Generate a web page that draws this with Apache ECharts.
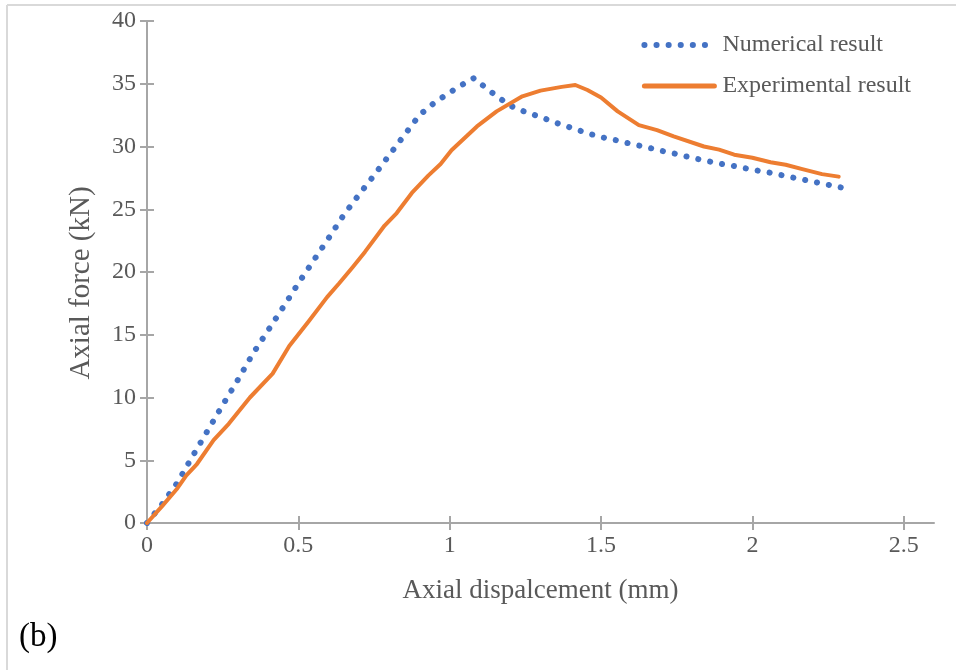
<!DOCTYPE html>
<html><head><meta charset="utf-8">
<script src="https://cdn.jsdelivr.net/npm/echarts@6/dist/echarts.min.js"></script>
<style>html,body{margin:0;padding:0;background:#fff}#c{width:956px;height:670px}</style>
</head><body><div id="c"></div>
<script>
const numX = [0,0.05,0.1,0.15,0.2,0.25,0.3,0.35,0.4,0.45,0.5,0.55,0.6,0.65,0.7,0.75,0.8,0.85,0.9,0.95,1.0,1.05,1.08,1.1,1.15,1.2,1.25,1.3,1.35,1.4,1.45,1.5,1.55,1.6,1.65,1.7,1.75,1.8,1.85,1.9,1.95,2.0,2.05,2.1,2.15,2.2,2.25,2.3];
const numY = [0,1.5,3.2,5.3,7.35,9.4,11.4,13.5,15.35,17.2,19.1,20.9,22.7,24.55,26.15,27.7,29.3,30.9,32.5,33.5,34.3,35.05,35.45,35.05,34.1,33.25,32.75,32.35,31.9,31.5,31.1,30.75,30.5,30.2,29.95,29.65,29.4,29.1,28.85,28.6,28.4,28.15,27.95,27.7,27.45,27.2,26.95,26.7];
const expX = [0,0.05,0.1,0.13,0.165,0.22,0.27,0.34,0.415,0.47,0.535,0.595,0.635,0.68,0.72,0.785,0.825,0.875,0.93,0.97,1.006,1.09,1.155,1.24,1.3,1.37,1.415,1.455,1.5,1.555,1.625,1.685,1.74,1.84,1.89,1.94,2.0,2.06,2.11,2.165,2.23,2.285];
const expY = [0,1.35,2.75,3.8,4.7,6.6,7.9,10.0,11.9,14.1,16.1,18.0,19.1,20.4,21.6,23.7,24.7,26.3,27.7,28.6,29.7,31.6,32.8,34.0,34.45,34.75,34.9,34.5,33.9,32.8,31.7,31.3,30.8,30.0,29.75,29.35,29.1,28.75,28.55,28.2,27.8,27.6];
const xTicks = [0,0.5,1,1.5,2,2.5];
const seriesNames = ['Numerical result','Experimental result'];
const xTitle = 'Axial dispalcement (mm)';
const yTitle = 'Axial force (kN)';
const panelLabel = '(b)';

const FONT = '"Liberation Serif","Times New Roman",serif';
const GREY = '#595959';
const AXIS = '#A6A6A6';
const BLUE = '#4472C4';
const ORANGE = '#ED7D31';
const dotStyle = {color:BLUE, width:6, type:[0.1,12], cap:'round'};
const solidStyle = {color:ORANGE, width:4, type:'solid', cap:'round', join:'round'};
const chart = echarts.init(document.getElementById('c'), null, {renderer:'canvas'});
const xBase = {type:'value', min:0, max:2.6, splitLine:{show:false}};
const yBase = {type:'value', min:0, max:40, interval:5, splitLine:{show:false}};
const tickStyle = {color:AXIS, width:2};
chart.setOption({
  animation:false,
  backgroundColor:'#fff',
  grid:{left:147, right:22, top:21, bottom:147, containLabel:false},
  legend:{
    orient:'vertical', right:40, top:28, itemWidth:70, itemHeight:10, itemGap:17,
    textStyle:{fontFamily:FONT, fontSize:24, color:GREY, padding:[0,0,0,3]},
    itemStyle:{opacity:0},
    data:[
      {name:seriesNames[0], itemStyle:{opacity:0}, lineStyle:Object.assign({}, dotStyle, {width:6})},
      {name:seriesNames[1], itemStyle:{opacity:0}, lineStyle:Object.assign({}, solidStyle, {width:5})}
    ]
  },
  xAxis:[
    Object.assign({}, xBase, {
      name:xTitle, nameLocation:'middle', nameGap:54,
      nameTextStyle:{fontFamily:FONT, fontSize:27, color:GREY},
      axisLine:{lineStyle:{color:AXIS, width:2}},
      axisTick:{show:true, length:7, lineStyle:tickStyle, customValues:xTicks},
      axisLabel:{fontFamily:FONT, fontSize:24, color:GREY, margin:11, customValues:xTicks}
    }),
    Object.assign({}, xBase, {position:'bottom',
      axisLine:{show:false}, axisLabel:{show:false},
      axisTick:{show:true, inside:true, length:7, lineStyle:tickStyle, customValues:xTicks}})
  ],
  yAxis:[
    Object.assign({}, yBase, {
      name:yTitle, nameLocation:'middle', nameGap:51, nameRotate:90,
      nameTextStyle:{fontFamily:FONT, fontSize:29, color:GREY, padding:[0,22,0,0]},
      axisLine:{show:true, lineStyle:{color:AXIS, width:2}},
      axisTick:{show:true, length:7, lineStyle:tickStyle},
      axisLabel:{fontFamily:FONT, fontSize:24, color:GREY, margin:11}
    }),
    Object.assign({}, yBase, {position:'left',
      axisLine:{show:false}, axisLabel:{show:false},
      axisTick:{show:true, inside:true, length:7, lineStyle:tickStyle}})
  ],
  series:[
    {name:seriesNames[0], type:'line', showSymbol:false, symbol:'none', smooth:false,
     data:numX.map((x,i)=>[x,numY[i]]),
     itemStyle:{color:BLUE},
     lineStyle:dotStyle},
    {name:seriesNames[1], type:'line', showSymbol:false, symbol:'none', smooth:false,
     data:expX.map((x,i)=>[x,expY[i]]),
     itemStyle:{color:ORANGE},
     lineStyle:solidStyle}
  ],
  graphic:[
    {type:'line', shape:{x1:7, y1:5, x2:956, y2:5}, style:{stroke:'#D9D9D9', lineWidth:2}},
    {type:'line', shape:{x1:7, y1:5, x2:7, y2:670}, style:{stroke:'#D9D9D9', lineWidth:2}},
    {type:'text', left:19, top:621, style:{text:panelLabel, fontFamily:FONT, fontSize:33, fill:'#000'}}
  ]
});
</script></body></html>
